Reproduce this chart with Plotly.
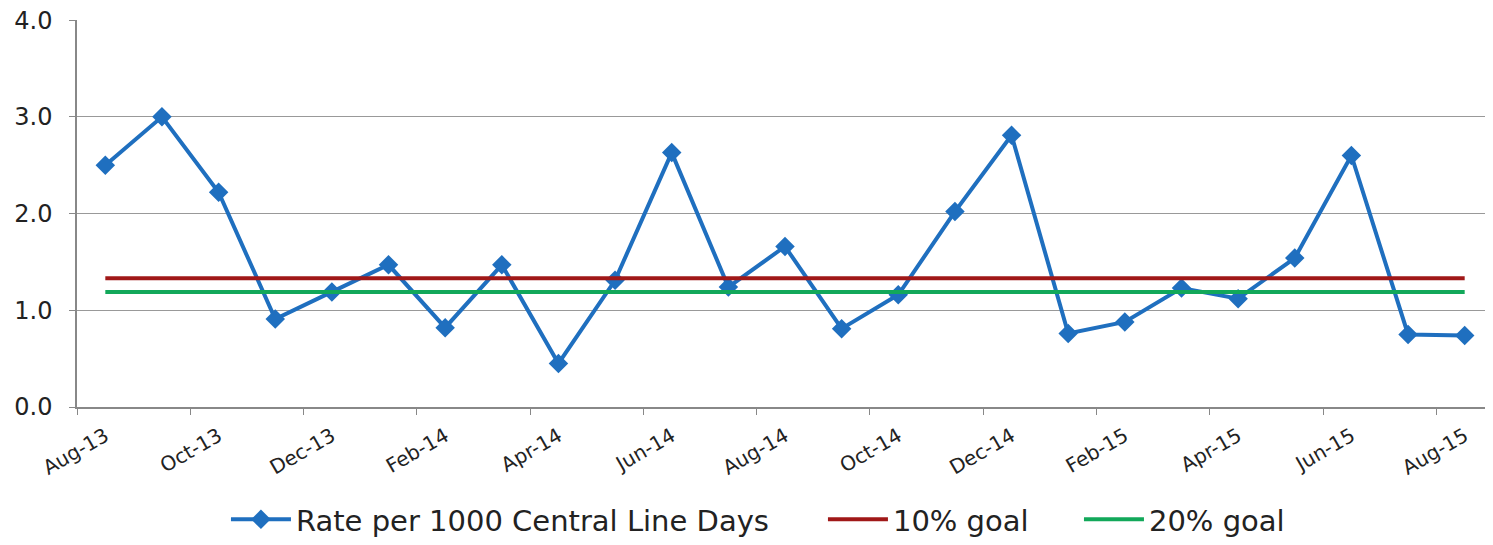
import plotly.graph_objects as go

months = ["Aug-13", "Sep-13", "Oct-13", "Nov-13", "Dec-13", "Jan-14", "Feb-14", "Mar-14",
          "Apr-14", "May-14", "Jun-14", "Jul-14", "Aug-14", "Sep-14", "Oct-14", "Nov-14",
          "Dec-14", "Jan-15", "Feb-15", "Mar-15", "Apr-15", "May-15", "Jun-15", "Jul-15", "Aug-15"]
rate = [2.50, 3.00, 2.22, 0.91, 1.19, 1.47, 0.82, 1.47, 0.45, 1.31, 2.63, 1.24, 1.66,
        0.81, 1.16, 2.02, 2.81, 0.76, 0.88, 1.23, 1.12, 1.54, 2.60, 0.75, 0.74]
goal10 = [1.33] * len(months)
goal20 = [1.19] * len(months)

BLUE = "#1F6FBF"
RED = "#A01818"
GREEN = "#12A85A"
TICKFONT = "DejaVu Sans"
LEGFONT = "DejaVu Sans"

fig = go.Figure()
fig.add_trace(go.Scatter(x=months, y=rate, mode="lines+markers", name="Rate per 1000 Central Line Days",
                         line=dict(color=BLUE, width=4), legend="legend",
                         marker=dict(symbol="diamond", size=15, color=BLUE)))
fig.add_trace(go.Scatter(x=months, y=goal10, mode="lines", name="10% goal", legend="legend2",
                         line=dict(color=RED, width=4)))
fig.add_trace(go.Scatter(x=months, y=goal20, mode="lines", name="20% goal", legend="legend3",
                         line=dict(color=GREEN, width=4)))

leg_common = dict(orientation="h", xanchor="left", y=-0.29, yanchor="middle",
                  itemwidth=60, font=dict(size=29, family=LEGFONT, color="#222"),
                  bgcolor="rgba(0,0,0,0)")

fig.update_layout(
    width=1485, height=537,
    margin=dict(l=69, r=0, t=12, b=137),
    paper_bgcolor="white", plot_bgcolor="white",
    font=dict(family=LEGFONT, size=17, color="#222"),
    showlegend=True,
    legend=dict(x=0.1052, **leg_common),
    legend2=dict(x=0.5268, **leg_common),
    legend3=dict(x=0.7076, **leg_common),
)
fig.update_xaxes(type="category", categoryorder="array", categoryarray=months,
                 range=[-0.5, len(months) - 0.5], dtick=2, tick0=0, automargin=False,
                 tickson="boundaries", ticks="outside", ticklen=6, tickcolor="#888",
                 tickangle=-30, ticklabelstandoff=8, ticklabeloverflow="allow",
                 showline=True, linecolor="#888", linewidth=1.5,
                 showgrid=False, tickfont=dict(size=20, family=TICKFONT, color="#222"))
fig.update_yaxes(range=[0, 4.001], dtick=1, tickformat=".1f", ticks="outside", ticklen=6,
                 automargin=False, ticklabelstandoff=12, ticklabeloverflow="allow",
                 tickcolor="#888", showline=True, linecolor="#888", linewidth=1.5,
                 showgrid=True, gridcolor="#999", gridwidth=1, zeroline=False,
                 tickfont=dict(size=24, family=TICKFONT, color="#222"))

fig.write_html("out.html")
